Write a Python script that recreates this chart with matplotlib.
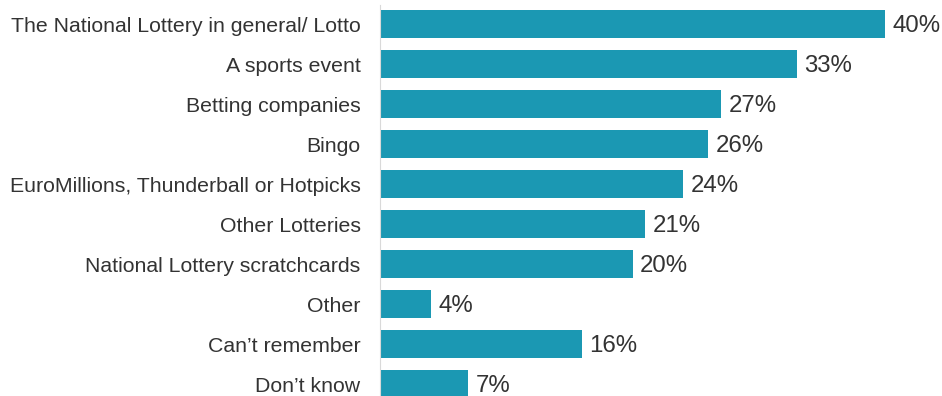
import matplotlib.pyplot as plt

categories = ["The National Lottery in general/ Lotto", "A sports event", "Betting companies",
              "Bingo", "EuroMillions, Thunderball or Hotpicks", "Other Lotteries",
              "National Lottery scratchcards", "Other", "Can\u2019t remember", "Don\u2019t know"]
values = [40, 33, 27, 26, 24, 21, 20, 4, 16, 7]

bar_color = "#1b98b3"
text_color = "#333333"

plt.rcParams['font.family'] = ['Liberation Sans', 'DejaVu Sans']

fig = plt.figure(figsize=(9.42, 3.96), dpi=100)
ax = fig.add_axes([380/942, 0, 562/942, 1])

ypos = list(range(len(categories)))
ax.barh(ypos, values, height=0.68, color=bar_color)

for y, v in zip(ypos, values):
    ax.text(v + 0.6, y + 0.04, f"{v}%", va='center', ha='left', fontsize=17.3, color=text_color)

ax.set_xlim(0, 562/12.625)
ax.set_ylim(9.3, -0.6)
ax.set_yticks(ypos)
ax.set_yticklabels(categories, fontsize=15.3, color=text_color)
ax.tick_params(axis='y', length=0, pad=14)
ax.set_xticks([])
for s in ['top', 'right', 'bottom']:
    ax.spines[s].set_visible(False)
ax.spines['left'].set_color('#d9d9d9')
ax.spines['left'].set_bounds(9.3, -0.48)

fig.savefig("out.png", dpi=100)
